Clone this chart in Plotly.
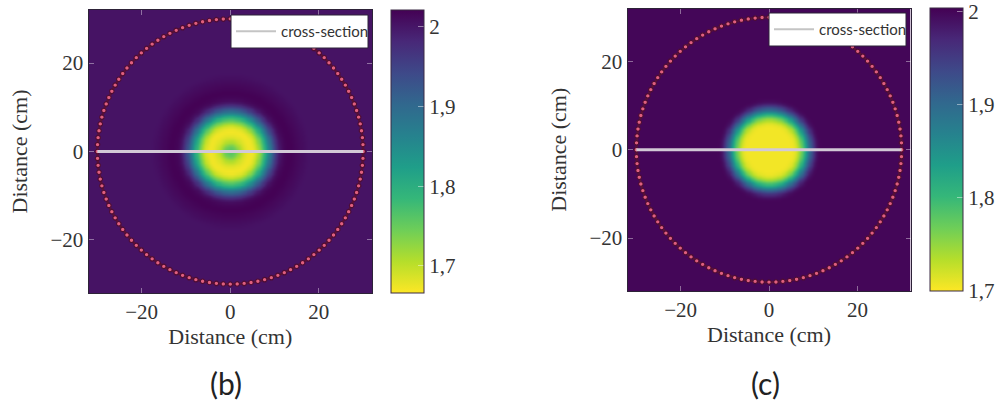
import numpy as np
import plotly.graph_objects as go

# Radial profiles, one value per 0.5 cm of radius
profile_b = [1.76, 1.758, 1.75, 1.735, 1.715, 1.70, 1.688, 1.68, 1.675, 1.672, 1.675, 1.685, 1.70,
             1.725, 1.75, 1.78, 1.81, 1.85, 1.885, 1.92, 1.95, 1.975, 1.995, 2.008, 2.015, 2.018,
             2.02, 2.02, 2.018, 2.016, 2.014, 2.012, 2.01, 2.008, 2.006, 2.004, 2.003]
profile_c = [1.705, 1.705, 1.705, 1.705, 1.705, 1.705, 1.705, 1.705, 1.705, 1.705, 1.705, 1.708, 1.715,
             1.73, 1.75, 1.78, 1.81, 1.85, 1.89, 1.925, 1.955, 1.98, 1.993, 1.999, 2.0]
cross_x = [-30, 30]
cross_y = [0, 0]
sensor_radius = 30
sensor_count = 120
ticks = [-20, 0, 20]
cb_ticks = [1.7, 1.8, 1.9, 2.0]
cb_text = ["1,7", "1,8", "1,9", "2"]

W, H = 1003, 405
CELL = 5  # sub-samples per heatmap cell
fine = np.arange(-32.2, 32.3, 0.1)
fx, fy = np.meshgrid(fine, fine)
radius_bin = np.rint(np.hypot(fx, fy) / 0.5).astype(int)
cells = len(fine) // CELL
grid = fine[: cells * CELL].reshape(cells, CELL).mean(axis=1)

def field(profile):
    table = np.array(profile)
    looked_up = table[np.minimum(radius_bin, len(table) - 1)][: cells * CELL, : cells * CELL]
    return looked_up.reshape(cells, CELL, cells, CELL).mean(axis=(1, 3)).round(4)

angle = np.linspace(0, 2 * np.pi, sensor_count + 1)
ring_x = sensor_radius * np.cos(angle)
ring_y = sensor_radius * np.sin(angle)

SERIF = "Liberation Serif"
INK = "#333333"
panels = [
    dict(z=field(profile_b), zmin=1.666, zmax=2.021, px=(88.5, 372), py=(10, 293), cb=391, xa="x", ya="y", leg="legend",
         lx=231, ly=15),
    dict(z=field(profile_c), zmin=1.70, zmax=2.004, px=(627.5, 910.5), py=(8.5, 291), cb=930, xa="x2", ya="y2", leg="legend2",
         lx=769, ly=13),
]

fig = go.Figure()
layout = dict(width=W, height=H, margin=dict(l=0, r=0, t=0, b=0), autosize=False, paper_bgcolor="white",
              plot_bgcolor="white", separators=",.", showlegend=True)
boxes = []
for i, p in enumerate(panels):
    fig.add_trace(go.Heatmap(
        x=grid, y=grid, z=p["z"], zmin=p["zmin"], zmax=p["zmax"], colorscale="Viridis_r", zsmooth="best",
        xaxis=p["xa"], yaxis=p["ya"], showlegend=False,
        colorbar=dict(x=p["cb"] / W, xref="paper", xanchor="left", xpad=0, ypad=0, thickness=33, thicknessmode="pixels",
                      len=(p["py"][1] - p["py"][0]) / H, lenmode="fraction", yref="paper", yanchor="bottom",
                      y=1 - p["py"][1] / H, tickvals=cb_ticks, ticktext=cb_text, ticks="inside", ticklen=6,
                      tickcolor="rgba(255,255,255,0.45)", tickwidth=1, outlinecolor="#3b2a45", outlinewidth=1,
                      borderwidth=0, tickfont=dict(family=SERIF, size=21, color=INK)),
    ))
    fig.add_trace(go.Scatter(
        x=ring_x, y=ring_y, mode="lines+markers", xaxis=p["xa"], yaxis=p["ya"], showlegend=False, hoverinfo="skip",
        line=dict(color="#5a1238", width=2.5),
        marker=dict(size=4.5, color="#e0607e", line=dict(color="#4e0c34", width=1.2)),
    ))
    fig.add_trace(go.Scatter(
        x=cross_x, y=cross_y, mode="lines", xaxis=p["xa"], yaxis=p["ya"], showlegend=False,
        line=dict(color="#d2c9d6", width=3),
    ))
    fig.add_trace(go.Scatter(
        x=[None], y=[None], mode="lines", name="cross-section", xaxis=p["xa"], yaxis=p["ya"], legend=p["leg"],
        line=dict(color="#c4c4c4", width=2),
    ))
    sfx = "" if i == 0 else "2"
    common = dict(range=[-32, 32], tickvals=ticks, ticks="inside", ticklen=5, tickcolor="rgba(255,255,255,0.4)", tickwidth=1,
                  mirror="allticks", showline=True, linecolor="#2d2238", linewidth=1, showgrid=False, zeroline=False,
                  tickfont=dict(family=SERIF, size=21, color=INK))
    title_font = dict(family=SERIF, size=22, color=INK)
    layout["xaxis" + sfx] = dict(common, domain=[p["px"][0] / W, p["px"][1] / W], anchor="y" + sfx,
                                 title=dict(text="Distance (cm)", font=title_font, standoff=4))
    layout["yaxis" + sfx] = dict(common, domain=[1 - p["py"][1] / H, 1 - p["py"][0] / H], anchor="x" + sfx,
                                 title=dict(text="Distance (cm)", font=title_font, standoff=16))
    layout[p["leg"]] = dict(x=p["lx"] / W, y=1 - p["ly"] / H, xanchor="left", yanchor="top", bgcolor="rgba(0,0,0,0)",
                            borderwidth=0, itemwidth=40,
                            font=dict(family="Lato", size=15, color="#333333"))
    boxes.append(dict(type="rect", xref="paper", yref="paper", layer="above", fillcolor="white",
                      line=dict(color="#2d2238", width=1),
                      x0=p["lx"] / W, x1=(p["lx"] + 137) / W, y0=1 - (p["ly"] + 33) / H, y1=1 - p["ly"] / H))

layout["shapes"] = boxes
fig.update_layout(**layout)
fig.update_layout(annotations=[
    dict(text="(b)", x=226 / W, y=1 - 383 / H, xref="paper", yref="paper", showarrow=False, xanchor="center", yanchor="middle",
         font=dict(family="Lato", size=30, color="#222222")),
    dict(text="(c)", x=765 / W, y=1 - 383 / H, xref="paper", yref="paper", showarrow=False, xanchor="center", yanchor="middle",
         font=dict(family="Lato", size=30, color="#222222")),
])
fig.write_html("out.html", config=dict(displayModeBar=False),
               post_script="document.body.style.margin='0';document.documentElement.style.overflow='hidden';")
